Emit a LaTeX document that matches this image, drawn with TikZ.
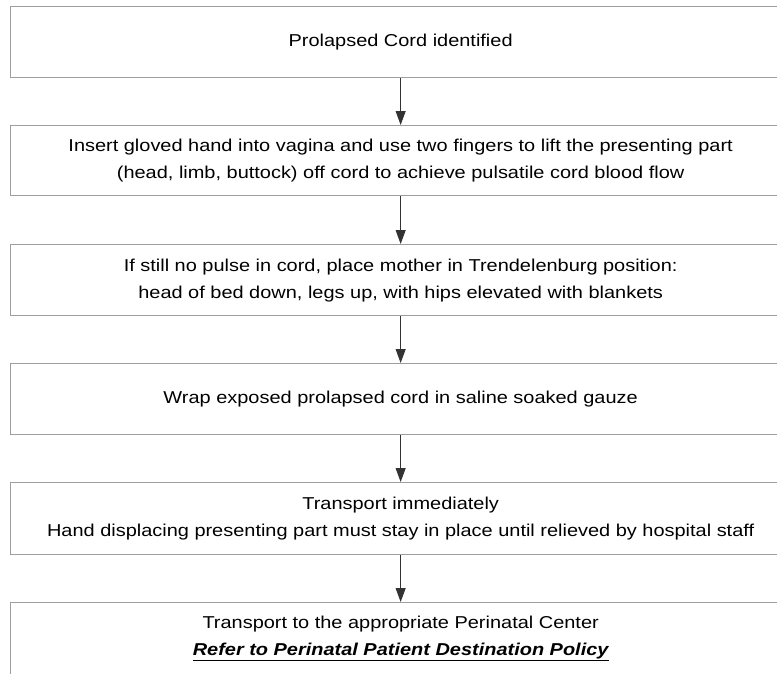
\documentclass[tikz,border=0pt]{standalone}
\usepackage{fontspec}
\setmainfont[FakeStretch=1.16]{Liberation Sans}
\usetikzlibrary{arrows.meta}
\definecolor{boxgray}{HTML}{9E9E9E}
\definecolor{arrowgray}{HTML}{333333}
\begin{document}
\begin{tikzpicture}[x=1pt,y=-1pt,
  stepbox/.style={draw=boxgray, line width=1.3pt, minimum width=780pt, anchor=north west,
    inner sep=0pt, align=center, font=\fontsize{17.2}{27}\selectfont},
  flow/.style={draw=arrowgray, line width=1pt, -{Triangle[length=14pt,width=10pt]}}]
\useasboundingbox (0,0) rectangle (777,673);
\clip (0,0) rectangle (777,673);
\node[stepbox, minimum height=71pt] (b1) at (10,6) {Prolapsed Cord identified};
\node[stepbox, minimum height=70pt] (b2) at (10,125) {Insert gloved hand into vagina and use two fingers to lift the presenting part\\(head, limb, buttock) off cord to achieve pulsatile cord blood flow};
\node[stepbox, minimum height=71pt] (b3) at (10,244) {If still no pulse in cord, place mother in Trendelenburg position:\\head of bed down, legs up, with hips elevated with blankets};
\node[stepbox, minimum height=71pt] (b4) at (10,363) {Wrap exposed prolapsed cord in saline soaked gauze};
\node[stepbox, minimum height=72pt] (b5) at (10,482) {Transport immediately\\Hand displacing presenting part must stay in place until relieved by hospital staff};
\node[stepbox, minimum height=72pt] (b6) at (10,602) {Transport to the appropriate Perinatal Center\\\textbf{\textit{\underline{Refer to Perinatal Patient Destination Policy}}}};
\draw[flow] (b1.south) -- (b2.north);
\draw[flow] (b2.south) -- (b3.north);
\draw[flow] (b3.south) -- (b4.north);
\draw[flow] (b4.south) -- (b5.north);
\draw[flow] (b5.south) -- (b6.north);
\end{tikzpicture}
\end{document}
